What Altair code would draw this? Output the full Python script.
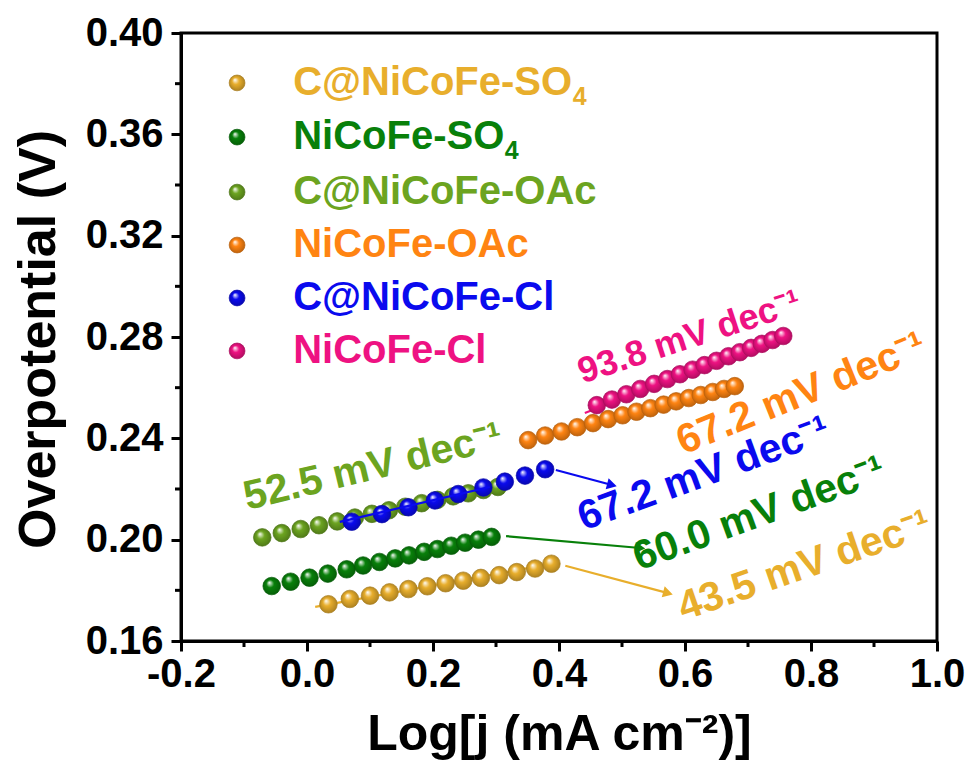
import math
import altair as alt
import pandas as pd

FONT = "Liberation Sans"
W, H = 756, 608
X_DOM = [-0.2, 1.0]
Y_DOM = [0.16, 0.40]

# ---------------- data ----------------
names = ["C@NiCoFe-SO4", "NiCoFe-SO4", "C@NiCoFe-OAc", "NiCoFe-OAc", "C@NiCoFe-Cl", "NiCoFe-Cl"]
legend_labels = ["C@NiCoFe-SO", "NiCoFe-SO", "C@NiCoFe-OAc", "NiCoFe-OAc", "C@NiCoFe-Cl", "NiCoFe-Cl"]
colors = ["#E8AE2C", "#08800A", "#6CA420", "#FF8412", "#0A0AEE", "#EE1282"]

# subscript "4" of the two sulfate labels
sub_label = ["4", "4"]
sub_series = [0, 1]
sub_x = [0.422, 0.314]

x_c_so4 = [0.034, 0.068, 0.100, 0.131, 0.161, 0.191, 0.220, 0.248, 0.276, 0.305, 0.333, 0.362, 0.388]
y_c_so4 = [0.1745, 0.1766, 0.1779, 0.1792, 0.1805, 0.1816, 0.1828, 0.1838, 0.1849, 0.1860, 0.1872, 0.1886, 0.1905]

x_so4 = [-0.056, -0.026, 0.004, 0.033, 0.063, 0.089, 0.115, 0.140, 0.162, 0.186, 0.207, 0.229, 0.251, 0.272, 0.293]
y_so4 = [0.1817, 0.1834, 0.1850, 0.1866, 0.1883, 0.1898, 0.1912, 0.1926, 0.1938, 0.1952, 0.1963, 0.1976, 0.1988, 0.2000, 0.2011]

x_c_oac = [-0.071, -0.040, -0.010, 0.019, 0.048, 0.076, 0.103, 0.130, 0.156, 0.182, 0.207, 0.232, 0.256, 0.280, 0.303]
y_c_oac = [0.2009, 0.2026, 0.2042, 0.2057, 0.2072, 0.2087, 0.2102, 0.2116, 0.2130, 0.2144, 0.2157, 0.2171, 0.2183, 0.2196, 0.2208]

x_oac = [0.351, 0.378, 0.404, 0.429, 0.454, 0.478, 0.501, 0.523, 0.545, 0.566, 0.586, 0.606, 0.625, 0.644, 0.662, 0.679]
y_oac = [0.2393, 0.2411, 0.2427, 0.2444, 0.2460, 0.2476, 0.2491, 0.2505, 0.2519, 0.2533, 0.2546, 0.2559, 0.2571, 0.2583, 0.2595, 0.2606]

x_c_cl = [0.071, 0.119, 0.161, 0.203, 0.240, 0.280, 0.314, 0.346, 0.378]
y_c_cl = [0.2071, 0.2101, 0.2128, 0.2155, 0.2180, 0.2206, 0.2229, 0.2253, 0.2278]

x_cl = [0.460, 0.484, 0.507, 0.529, 0.551, 0.572, 0.592, 0.612, 0.631, 0.650, 0.669, 0.687, 0.705, 0.722, 0.739, 0.756]
y_cl = [0.2531, 0.2553, 0.2574, 0.2595, 0.2615, 0.2634, 0.2653, 0.2671, 0.2689, 0.2706, 0.2724, 0.2740, 0.2757, 0.2773, 0.2788, 0.2804]

series_x = [x_c_so4, x_so4, x_c_oac, x_oac, x_c_cl, x_cl]
series_y = [y_c_so4, y_so4, y_c_oac, y_oac, y_c_cl, y_cl]

legend_y = [0.3803, 0.3589, 0.3372, 0.3163, 0.2954, 0.2745]
legend_marker_x = -0.111
legend_text_x = -0.022

slope_labels = ["43.5 mV dec⁻¹", "60.0 mV dec⁻¹", "52.5 mV dec⁻¹", "67.2 mV dec⁻¹", "67.2 mV dec⁻¹", "93.8 mV dec⁻¹"]
slope_x = [0.790, 0.718, 0.105, 0.785, 0.630, 0.607]
slope_y = [0.1895, 0.2100, 0.2285, 0.2575, 0.2258, 0.2799]
slope_angle = [341, 340, 346.5, 338, 340, 342]
slope_size = [41, 41, 41, 41, 41, 36]

arrow_series = [0, 1, 4]
arrow_x1 = [0.410, 0.316, 0.395]
arrow_y1 = [0.1897, 0.2014, 0.2275]
arrow_x2 = [0.573, 0.529, 0.484]
arrow_y2 = [0.1789, 0.1967, 0.2216]

fit_series = [0, 5, 4]
fit_x1 = [0.013, 0.441, 0.052]
fit_y1 = [0.1735, 0.2500, 0.2070]
fit_x2 = [0.388, 0.756, 0.290]
fit_y2 = [0.1905, 0.2804, 0.2208]

x_major = [-0.2, 0.0, 0.2, 0.4, 0.6, 0.8, 1.0]
y_major = [0.16, 0.20, 0.24, 0.28, 0.32, 0.36, 0.40]
x_minor = [-0.1, 0.1, 0.3, 0.5, 0.7, 0.9]
y_minor = [0.18, 0.22, 0.26, 0.30, 0.34, 0.38]

# ---------------- helpers ----------------
def darken(hexcol, f=0.72):
    h = hexcol.lstrip("#")
    r, g, b = (int(h[i:i + 2], 16) for i in (0, 2, 4))
    return "#%02x%02x%02x" % (int(r * f), int(g * f), int(b * f))

xscale = alt.Scale(domain=X_DOM, nice=False, zero=False)
yscale = alt.Scale(domain=Y_DOM, nice=False, zero=False)

xaxis = alt.Axis(
    values=x_major,
    labelExpr="replace(format(datum.value, '.1f'), '−', '-')",
    title="Log[j (mA cm⁻²)]",
    titleFont=FONT, titleFontSize=50, titleFontWeight="bold", titleColor="black",
    titleX=W / 2, titleY=108, titleAlign="center", titleBaseline="alphabetic",
    labelFont=FONT, labelFontSize=40, labelFontWeight="bold", labelColor="black",
    labelPadding=3, labelFlush=False, labelOverlap=False,
    tickSize=10, tickWidth=3, tickColor="black",
    domainWidth=3, domainColor="black", grid=False,
)
yaxis = alt.Axis(
    values=y_major,
    format=".2f",
    title="Overpotential (V)",
    titleFont=FONT, titleFontSize=52, titleFontWeight="bold", titleColor="black",
    titleX=-127, titleY=H / 2 + 2, titleAngle=270, titleAlign="center", titleBaseline="alphabetic",
    labelFont=FONT, labelFontSize=40, labelFontWeight="bold", labelColor="black",
    labelPadding=8, labelFlush=False, labelOverlap=False,
    tickSize=10, tickWidth=3, tickColor="black",
    domainWidth=3, domainColor="black", grid=False,
)

def X(f):
    return alt.X(f, type="quantitative", scale=xscale, axis=xaxis)

def Y(f):
    return alt.Y(f, type="quantitative", scale=yscale, axis=yaxis)

def balls(df, col, size):
    dark = darken(col)
    grad = alt.RadialGradient(
        gradient="radial",
        stops=[
            alt.GradientStop(color="#ffffff", offset=0.0),
            alt.GradientStop(color=col, offset=0.40),
            alt.GradientStop(color=dark, offset=1.0),
        ],
        x1=0.36, y1=0.30, r1=0.0, x2=0.5, y2=0.5, r2=0.55,
    )
    return alt.Chart(df).mark_circle(
        size=size, fill=grad, stroke=dark, strokeWidth=0.7, opacity=1
    ).encode(x=X("x"), y=Y("y"))

def fit_line(k):
    s = fit_series[k]
    df = pd.DataFrame({"x": [fit_x1[k]], "y": [fit_y1[k]], "x2": [fit_x2[k]], "y2": [fit_y2[k]]})
    return alt.Chart(df).mark_rule(color=colors[s], strokeWidth=2.2).encode(
        x=X("x"), y=Y("y"), x2="x2", y2="y2"
    )

layers = []
for i in range(len(names)):
    if i in fit_series and i != 4:
        layers.append(fit_line(fit_series.index(i)))
    df = pd.DataFrame({"x": series_x[i], "y": series_y[i]})
    layers.append(balls(df, colors[i], 310))
    if i == 4:
        layers.append(fit_line(fit_series.index(4)))

# legend (markers + coloured labels)
for i in range(len(names)):
    df = pd.DataFrame({"x": [legend_marker_x], "y": [legend_y[i]]})
    layers.append(balls(df, colors[i], 250))

leg_df = pd.DataFrame({"x": [legend_text_x] * len(names), "y": legend_y,
                       "label": legend_labels, "col": colors})
layers.append(
    alt.Chart(leg_df).mark_text(font=FONT, fontSize=40, fontWeight="bold",
                                align="left", baseline="middle").encode(
        x=X("x"), y=Y("y"), text="label:N", color=alt.Color("col:N", scale=None)
    )
)
sub_df = pd.DataFrame({"x": sub_x, "y": [legend_y[s] for s in sub_series],
                       "label": sub_label, "col": [colors[s] for s in sub_series]})
layers.append(
    alt.Chart(sub_df).mark_text(font=FONT, fontSize=25, fontWeight="bold",
                                align="left", baseline="middle", dy=14).encode(
        x=X("x"), y=Y("y"), text="label:N", color=alt.Color("col:N", scale=None)
    )
)

# slope annotations
ann_df = pd.DataFrame({"x": slope_x, "y": slope_y, "label": slope_labels,
                       "col": colors, "ang": slope_angle, "fs": slope_size})
layers.append(
    alt.Chart(ann_df).mark_text(font=FONT, fontWeight="bold",
                                align="center", baseline="middle").encode(
        x=X("x"), y=Y("y"), text="label:N",
        color=alt.Color("col:N", scale=None), angle=alt.Angle("ang:Q", scale=None),
        size=alt.Size("fs:Q", scale=None)
    )
)

# arrows
px_per_x = W / (X_DOM[1] - X_DOM[0])
px_per_y = H / (Y_DOM[1] - Y_DOM[0])
arr_ang = [math.degrees(math.atan2(-(arrow_y2[k] - arrow_y1[k]) * px_per_y,
                                   (arrow_x2[k] - arrow_x1[k]) * px_per_x))
           for k in range(len(arrow_series))]
arr_df = pd.DataFrame({"x": arrow_x1, "y": arrow_y1, "x2": arrow_x2, "y2": arrow_y2,
                       "col": [colors[s] for s in arrow_series], "ang": arr_ang})
layers.append(
    alt.Chart(arr_df).mark_rule(strokeWidth=2.2).encode(
        x=X("x"), y=Y("y"), x2="x2", y2="y2", color=alt.Color("col:N", scale=None)
    )
)
layers.append(
    alt.Chart(arr_df).mark_point(shape="triangle-right", filled=True, size=130, opacity=1).encode(
        x=X("x2"), y=Y("y2"), color=alt.Color("col:N", scale=None),
        angle=alt.Angle("ang:Q", scale=None)
    )
)

# minor ticks
xm_df = pd.DataFrame({"x": x_minor})
layers.append(
    alt.Chart(xm_df).mark_rule(color="black", strokeWidth=3).encode(
        x=X("x"), y=alt.value(H), y2=alt.value(H + 6)
    )
)
ym_df = pd.DataFrame({"y": y_minor})
layers.append(
    alt.Chart(ym_df).mark_rule(color="black", strokeWidth=3).encode(
        y=Y("y"), x=alt.value(0), x2=alt.value(-6)
    )
)

chart = alt.layer(*layers).properties(
    width=W, height=H,
    autosize=alt.AutoSizeParams(type="none"),
    padding={"left": 181, "top": 33, "right": 32, "bottom": 129},
    background="white",
).configure_view(stroke="black", strokeWidth=3)

chart.save("out.html", embed_options={"renderer": "svg", "actions": False})
